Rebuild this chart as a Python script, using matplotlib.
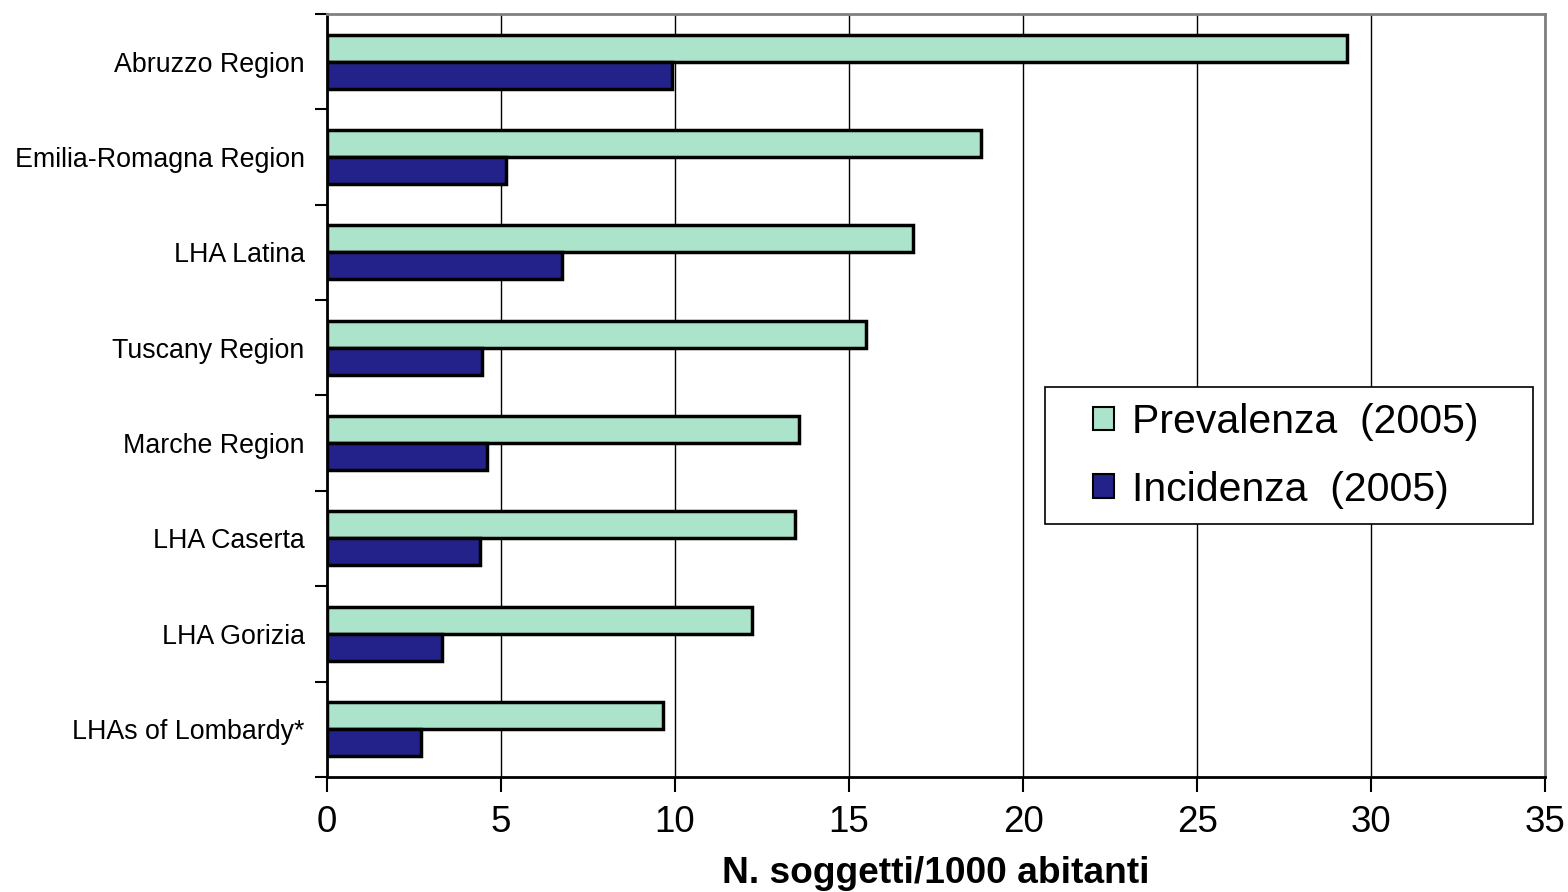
import numpy as np
import matplotlib.pyplot as plt
from matplotlib.patches import Rectangle
from matplotlib.ticker import FixedLocator, NullFormatter

plt.rcParams['font.family'] = ['Liberation Sans', 'DejaVu Sans']

# Dati
regions = ['Abruzzo Region', 'Emilia-Romagna Region', 'LHA Latina', 'Tuscany Region',
           'Marche Region', 'LHA Caserta', 'LHA Gorizia', 'LHAs of Lombardy*']
prevalenza = [29.3, 18.8, 16.85, 15.5, 13.55, 13.45, 12.2, 9.65]
incidenza = [9.9, 5.15, 6.75, 4.45, 4.6, 4.4, 3.3, 2.7]

col_prev = '#abe3cb'
col_inc = '#22228a'

fig = plt.figure(figsize=(15.68, 8.92), dpi=100)
ax = fig.add_axes([0.2085, 0.129, 0.777, 0.8555])

y = np.arange(len(regions))
h = 0.283
ax.barh(y - h / 2, prevalenza, height=h, color=col_prev, edgecolor='black',
        linewidth=2.5, label='Prevalenza  (2005)', zorder=3)
ax.barh(y + h / 2, incidenza, height=h, color=col_inc, edgecolor='black',
        linewidth=2.5, label='Incidenza  (2005)', zorder=3)

ax.set_ylim(len(regions) - 0.5, -0.5)
ax.set_xlim(0, 35)
ax.set_xticks(np.arange(0, 36, 5))
ax.tick_params(axis='x', labelsize=26.5, length=11, width=1.5, pad=9, direction='out')
ax.set_yticks(y)
ax.set_yticklabels(regions, fontsize=19.3)
ax.tick_params(axis='y', length=0, pad=16)
ax.yaxis.set_minor_locator(FixedLocator(np.arange(-0.5, len(regions), 1)))
ax.yaxis.set_minor_formatter(NullFormatter())
ax.tick_params(axis='y', which='minor', length=9, width=1.5)

ax.xaxis.grid(True, color='black', linewidth=1, zorder=0)
ax.set_axisbelow(True)

for side in ['left', 'bottom']:
    ax.spines[side].set_linewidth(2)
    ax.spines[side].set_color('black')
for side in ['top', 'right']:
    ax.spines[side].set_linewidth(2)
    ax.spines[side].set_color('#808080')

ax.set_xlabel('N. soggetti/1000 abitanti', fontsize=26.7, fontweight='bold', labelpad=12)

# legenda senza cornice + riquadro disegnato a parte
leg = ax.legend(loc='center', bbox_to_anchor=(0.787, 0.4207), fontsize=29.5,
                frameon=False, borderpad=0, handlelength=0.5, handleheight=0.5,
                handletextpad=0.45, labelspacing=0.72)
for p in leg.get_patches():
    p.set_linewidth(1.5)
ax.add_patch(Rectangle((0.5895, 0.3316), 0.4005, 0.1795, transform=ax.transAxes,
                       facecolor='white', edgecolor='black', linewidth=1.2, zorder=4))
leg.set_zorder(5)

plt.savefig('out.png', dpi=100)
